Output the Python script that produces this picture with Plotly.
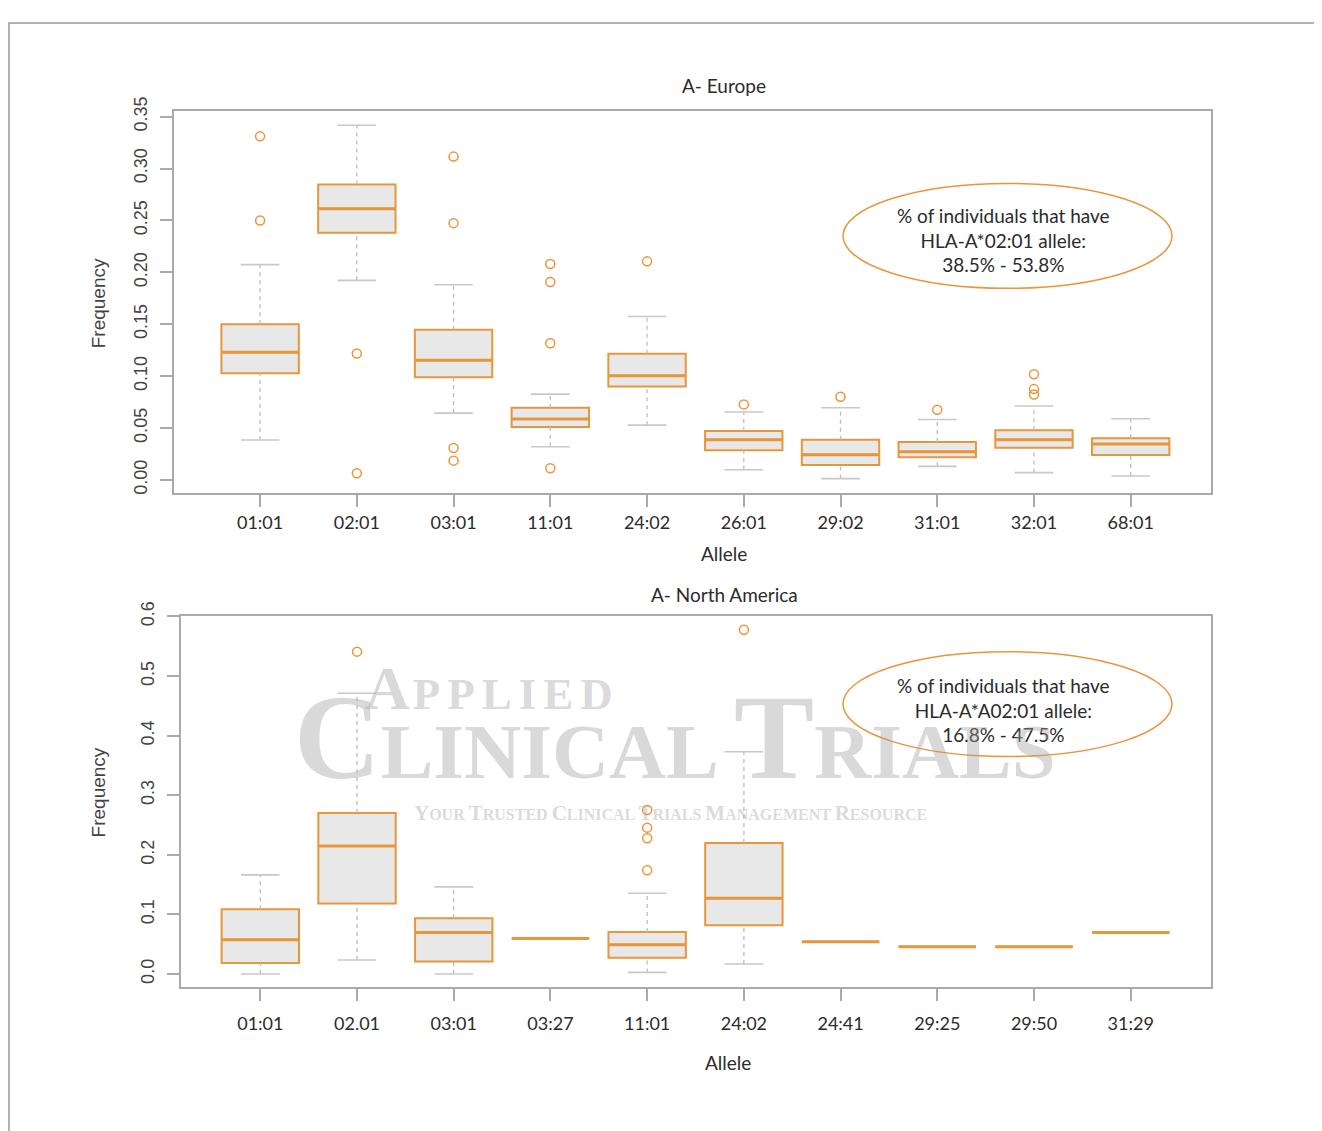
import plotly.graph_objects as go

# ---------------- data ----------------
eu_alleles = ["01:01", "02:01", "03:01", "11:01", "24:02", "26:01", "29:02", "31:01", "32:01", "68:01"]
eu_lower = [0.0385, 0.1923, 0.0644, 0.0320, 0.0528, 0.0099, 0.0013, 0.0131, 0.0071, 0.0038]
eu_q1 = [0.1029, 0.2381, 0.0990, 0.0510, 0.0901, 0.0285, 0.0144, 0.0218, 0.0311, 0.0240]
eu_median = [0.1230, 0.2612, 0.1154, 0.0587, 0.1004, 0.0388, 0.0244, 0.0272, 0.0388, 0.0346]
eu_q3 = [0.1500, 0.2846, 0.1446, 0.0696, 0.1215, 0.0471, 0.0388, 0.0365, 0.0478, 0.0401]
eu_upper = [0.2074, 0.3417, 0.1880, 0.0827, 0.1574, 0.0654, 0.0696, 0.0583, 0.0712, 0.0590]
eu_outliers = [
    [0.331, 0.250],
    [0.1218, 0.0064],
    [0.3115, 0.2474, 0.0308, 0.0186],
    [0.208, 0.1907, 0.1317, 0.0112],
    [0.2106],
    [0.0728],
    [0.0801],
    [0.0676],
    [0.1019, 0.0875, 0.0824],
    [],
]

na_alleles = ["01:01", "02.01", "03:01", "03:27", "11:01", "24:02", "24:41", "29:25", "29:50", "31:29"]
na_lower = [0.0000, 0.0235, 0.0000, 0.0598, 0.0028, 0.0168, 0.0541, 0.0458, 0.0458, 0.0698]
na_q1 = [0.0184, 0.1184, 0.0212, 0.0598, 0.0273, 0.0821, 0.0541, 0.0458, 0.0458, 0.0698]
na_median = [0.0575, 0.2149, 0.0698, 0.0598, 0.0491, 0.1273, 0.0541, 0.0458, 0.0458, 0.0698]
na_q3 = [0.1089, 0.2702, 0.0938, 0.0598, 0.0704, 0.2200, 0.0541, 0.0458, 0.0458, 0.0698]
na_upper = [0.1664, 0.4712, 0.1463, 0.0598, 0.1357, 0.3730, 0.0541, 0.0458, 0.0458, 0.0698]
na_outliers = [
    [],
    [0.541],
    [],
    [],
    [0.2752, 0.2457, 0.2278, 0.1742],
    [0.5779],
    [],
    [],
    [],
    [],
]

eu_yticks = [0.00, 0.05, 0.10, 0.15, 0.20, 0.25, 0.30, 0.35]
na_yticks = [0.0, 0.1, 0.2, 0.3, 0.4, 0.5, 0.6]

eu_note = "% of individuals that have<br>HLA-A*02:01 allele:<br>38.5% - 53.8%"
na_note = "% of individuals that have<br>HLA-A*A02:01 allele:<br>16.8% - 47.5%"

# ---------------- style ----------------
OFFX = 8          # page margin, horizontal
OFFY = 21.5       # observed page offset of the figure, vertical
SY = 0.9875       # observed vertical scale of the capture
W, H = 1322 - 2 * OFFX, 1123
ORANGE = "#E8963C"
FILL = "#E8E8E8"
AXIS = "#AAAAAA"
WHISK = "#BDBDBD"
TXT = "#2b2b2b"
SANS = "Lato, 'Open Sans', sans-serif"
HELV = "'Liberation Sans', Arial, sans-serif"


def px(x):
    return (x - OFFX) / W


def py(y):
    return 1 - (y / SY - OFFY) / H


fig = go.Figure()


def add_panel(alleles, lower, q1, med, q3, upper, outl, xa, ya):
    pos = list(range(1, len(alleles) + 1))
    fig.add_trace(go.Box(
        x=pos, q1=q1, median=med, q3=q3, lowerfence=q1, upperfence=q3,
        width=0.8, whiskerwidth=0, fillcolor=FILL,
        line=dict(color=ORANGE, width=2), boxpoints=False,
        xaxis=xa, yaxis=ya, hoverinfo="skip", showlegend=False,
    ))
    wx, wy, cx, cy, mx, my, ox, oy = [], [], [], [], [], [], [], []
    for p, lo, a, m, b, up, o in zip(pos, lower, q1, med, q3, upper, outl):
        if up > b:
            wx += [p, p, None]
            wy += [b, up, None]
        if lo < a:
            wx += [p, p, None]
            wy += [lo, a, None]
        if up > b or lo < a:
            cx += [p - 0.2, p + 0.2, None, p - 0.2, p + 0.2, None]
            cy += [up, up, None, lo, lo, None]
        mx += [p - 0.4, p + 0.4, None]
        my += [m, m, None]
        for v in o:
            ox.append(p)
            oy.append(v)
    fig.add_trace(go.Scatter(x=wx, y=wy, mode="lines", line=dict(color=WHISK, width=1.3, dash="4px,4px"),
                             xaxis=xa, yaxis=ya, hoverinfo="skip", showlegend=False))
    fig.add_trace(go.Scatter(x=cx, y=cy, mode="lines", line=dict(color="#C8C8C8", width=1.6),
                             xaxis=xa, yaxis=ya, hoverinfo="skip", showlegend=False))
    fig.add_trace(go.Scatter(x=mx, y=my, mode="lines", line=dict(color=ORANGE, width=3),
                             xaxis=xa, yaxis=ya, hoverinfo="skip", showlegend=False))
    fig.add_trace(go.Scatter(x=ox, y=oy, mode="markers",
                             marker=dict(symbol="circle-open", size=9, color=ORANGE, line=dict(width=1.5, color=ORANGE)),
                             xaxis=xa, yaxis=ya, hoverinfo="skip", showlegend=False))


add_panel(eu_alleles, eu_lower, eu_q1, eu_median, eu_q3, eu_upper, eu_outliers, "x", "y")
add_panel(na_alleles, na_lower, na_q1, na_median, na_q3, na_upper, na_outliers, "x2", "y2")

axis_common = dict(showline=True, mirror=True, linecolor=AXIS, linewidth=2, ticks="outside",
                   ticklen=12, tickwidth=2, tickcolor=AXIS, showgrid=False, zeroline=False, fixedrange=True)

fig.update_layout(
    width=W, height=H, margin=dict(l=0, r=0, t=0, b=0),
    paper_bgcolor="white", plot_bgcolor="white", showlegend=False,
    xaxis=dict(axis_common, domain=[px(174), px(1211)], range=[0.11, 10.83], anchor="y",
               tickmode="array", tickvals=list(range(1, 11)), ticktext=eu_alleles,
               tickfont=dict(family=SANS, size=18, color=TXT), ticklabelstandoff=0),
    yaxis=dict(axis_common, domain=[py(493), py(110)], range=[-0.0125, 0.3558], anchor="x",
               tickmode="array", tickvals=eu_yticks, ticktext=[f"{v:.2f}" for v in eu_yticks],
               tickangle=-90, tickfont=dict(family=HELV, size=18, color="#444"), ticklabelstandoff=6),
    xaxis2=dict(axis_common, domain=[px(181), px(1211)], range=[0.18, 10.83], anchor="y2",
                tickmode="array", tickvals=list(range(1, 11)), ticktext=na_alleles,
                tickfont=dict(family=SANS, size=18, color=TXT), ticklabelstandoff=7),
    yaxis2=dict(axis_common, domain=[py(988), py(616)], range=[-0.0218, 0.6013], anchor="x2",
                tickmode="array", tickvals=na_yticks, ticktext=[f"{v:.1f}" for v in na_yticks],
                tickangle=-90, tickfont=dict(family=HELV, size=18, color="#444"), ticklabelstandoff=6),
)

ann = []


def text(x, y, s, size, family=SANS, color=TXT, angle=0, xanchor="center"):
    ann.append(dict(x=px(x), y=py(y), xref="paper", yref="paper", text=s, showarrow=False,
                    font=dict(family=family, size=size, color=color), textangle=angle,
                    xanchor=xanchor, yanchor="middle"))


text(724, 85, "A- Europe", 19)
text(724, 554, "Allele", 19)
text(724, 595, "A- North America", 19)
text(728, 1064, "Allele", 19)
text(98, 303, "Frequency", 19, family=HELV, color="#444", angle=-90)
text(98, 793, "Frequency", 19, family=HELV, color="#444", angle=-90)
text(1003, 240, eu_note, 19)
text(1003, 710, na_note, 19)

# watermark
WM = "rgba(160,160,160,0.40)"
SERIF = "'Liberation Serif', 'DejaVu Serif', serif"
ann.append(dict(x=px(363), y=py(688), xref="paper", yref="paper", showarrow=False, xanchor="left", yanchor="middle",
                text='<span style="font-size:62px;letter-spacing:3px">A</span>'
                     '<span style="font-size:45px;letter-spacing:7px">PPLIED</span>',
                font=dict(family=SERIF, size=62, color=WM, weight="bold")))
ann.append(dict(x=px(292), y=py(738), xref="paper", yref="paper", showarrow=False, xanchor="left", yanchor="middle",
                text='<span style="font-size:120px">C</span><span style="font-size:79px">LINICAL </span>'
                     '<span style="font-size:120px">T</span><span style="font-size:79px">RIALS</span>',
                font=dict(family=SERIF, size=120, color=WM, weight="bold")))
ann.append(dict(x=px(412), y=py(814), xref="paper", yref="paper", showarrow=False, xanchor="left", yanchor="middle",
                text='<span style="font-size:21px">Y</span><span style="font-size:16px">OUR </span>'
                     '<span style="font-size:21px">T</span><span style="font-size:16px">RUSTED </span>'
                     '<span style="font-size:21px">C</span><span style="font-size:16px">LINICAL </span>'
                     '<span style="font-size:21px">T</span><span style="font-size:16px">RIALS </span>'
                     '<span style="font-size:21px">M</span><span style="font-size:16px">ANAGEMENT </span>'
                     '<span style="font-size:21px">R</span><span style="font-size:16px">ESOURCE</span>',
                font=dict(family=SERIF, size=21, color=WM, weight="bold")))

fig.update_layout(annotations=ann)

shapes = [
    dict(type="rect", xref="paper", yref="paper", x0=px(9), x1=px(1317), y0=-0.05, y1=1 - 1.0 / H,
         line=dict(color="#999999", width=1.5), fillcolor="rgba(0,0,0,0)", layer="below"),
    dict(type="circle", xref="paper", yref="paper", x0=px(843), x1=px(1172), y0=py(288), y1=py(183),
         line=dict(color=ORANGE, width=1.5)),
    dict(type="circle", xref="paper", yref="paper", x0=px(843), x1=px(1172), y0=py(757), y1=py(652),
         line=dict(color=ORANGE, width=1.5)),
]
fig.update_layout(shapes=shapes)

fig.write_html("out.html")
